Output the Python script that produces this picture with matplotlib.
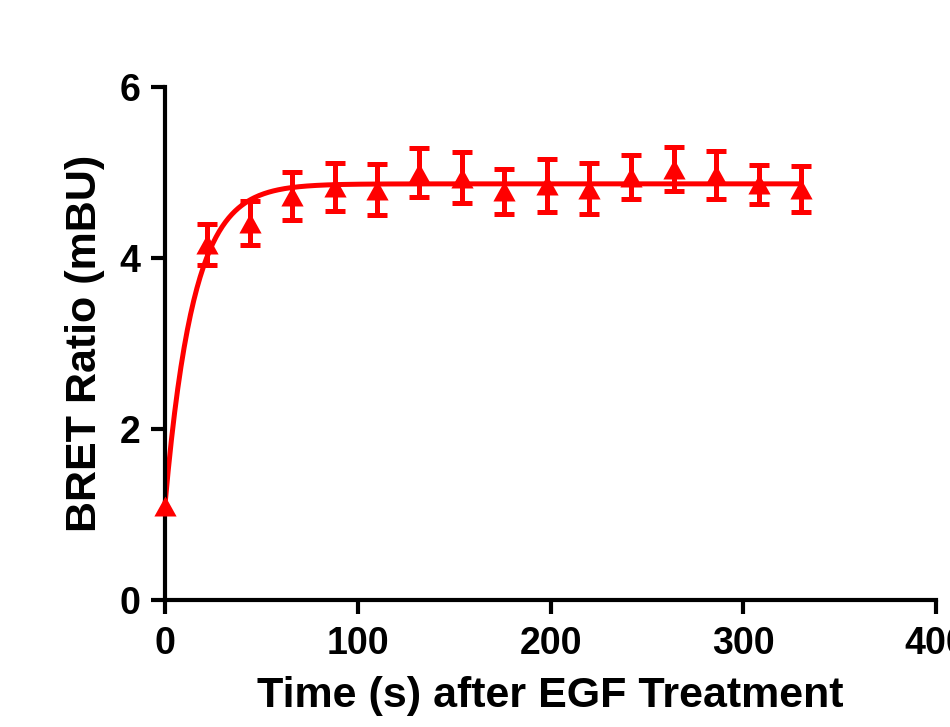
"""
BRET ratio time course after EGF treatment, with a one-phase association fit.
"""

import numpy as np
import matplotlib
matplotlib.use("Agg")
import matplotlib.pyplot as plt
from matplotlib.path import Path

##########################################################################
## Data
##########################################################################

time_s = [0, 22, 44, 66, 88, 110, 132, 154, 176, 198, 220, 242, 264, 286, 308, 330]
bret_mean = [1.10, 4.16, 4.41, 4.73, 4.83, 4.80, 5.00, 4.94,
             4.78, 4.85, 4.81, 4.95, 5.04, 4.97, 4.86, 4.81]
bret_sem = [0.00, 0.24, 0.26, 0.28, 0.28, 0.30, 0.29, 0.30,
            0.26, 0.31, 0.30, 0.26, 0.26, 0.28, 0.23, 0.27]

x_ticks = [0, 100, 200, 300, 400]
y_ticks = [0, 2, 4, 6]

RED = "#ff0000"

##########################################################################
## Fit: Y = Y0 + (Plateau - Y0) * (1 - exp(-K * x))
##########################################################################

def fit_one_phase(x, y):
    x = np.asarray(x, float)
    y = np.asarray(y, float)
    best = None
    for k in np.linspace(0.005, 0.3, 3000):
        e = np.exp(-k * x)
        A = np.column_stack([e, 1 - e])
        coef, *_ = np.linalg.lstsq(A, y, rcond=None)
        sse = np.sum((A @ coef - y) ** 2)
        if best is None or sse < best[0]:
            best = (sse, k, coef[0], coef[1])
    return best[1:]

k, y0, plateau = fit_one_phase(time_s, bret_mean)
xfit = np.linspace(0, max(time_s), 400)
yfit = y0 + (plateau - y0) * (1 - np.exp(-k * xfit))

# slightly squat triangle marker, centred on the value
tri = Path([(-1.0, -0.9), (1.0, -0.9), (0.0, 0.9), (-1.0, -0.9)],
           [Path.MOVETO, Path.LINETO, Path.LINETO, Path.CLOSEPOLY])

# only draw error bars where there is a spread
has_err = [i for i, s in enumerate(bret_sem) if s > 0]

##########################################################################
## Chart
##########################################################################

plt.rcParams["font.family"] = ["Liberation Sans", "DejaVu Sans"]
plt.rcParams["font.weight"] = "bold"

fig = plt.figure(figsize=(9.5, 7.27), dpi=100)
ax = fig.add_axes([0.1737, 0.1747, 0.8116, 0.7056])

ax.plot(xfit, yfit, color=RED, lw=3.6, zorder=2, clip_on=False)
ax.errorbar([time_s[i] for i in has_err], [bret_mean[i] for i in has_err],
            yerr=[bret_sem[i] for i in has_err], fmt="none", ecolor=RED,
            elinewidth=3.6, capsize=7.5, capthick=3.6, zorder=3, clip_on=False)
ax.plot(time_s, bret_mean, ls="none", marker=tri, ms=16, color=RED,
        mew=0, zorder=4, clip_on=False)

ax.set_xlim(0, 400)
ax.set_ylim(0, 6)
ax.set_xticks(x_ticks)
ax.set_yticks(y_ticks)

for side in ("top", "right"):
    ax.spines[side].set_visible(False)
for side in ("left", "bottom"):
    ax.spines[side].set_linewidth(3)
ax.tick_params(direction="out", length=10, width=3, labelsize=27)
ax.tick_params(axis="x", pad=9)
ax.tick_params(axis="y", pad=8)

ax.set_xlabel("Time (s) after EGF Treatment", fontsize=31, fontweight="bold",
              labelpad=10)
ax.set_ylabel("BRET Ratio (mBU)", fontsize=31, fontweight="bold", labelpad=10)

fig.savefig("out.png", dpi=100)
